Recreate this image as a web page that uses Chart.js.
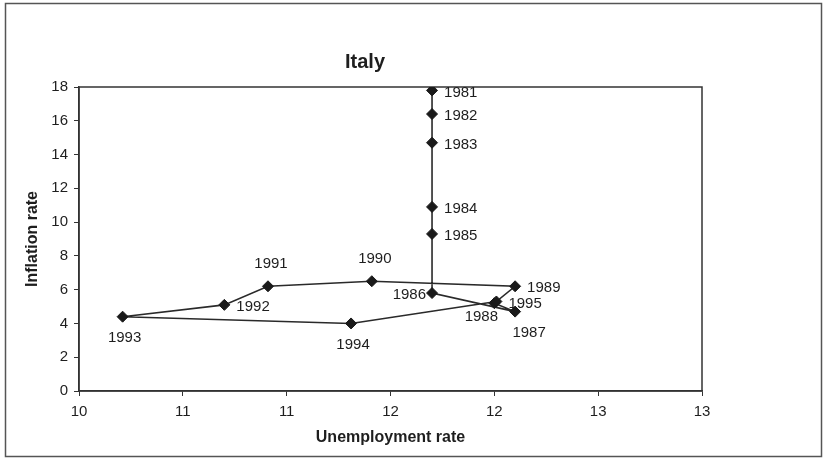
<!DOCTYPE html>
<html><head><meta charset="utf-8">
<script src="https://cdn.jsdelivr.net/npm/chart.js@4/dist/chart.umd.min.js"></script>
<style>html,body{margin:0;padding:0;background:#fff}canvas{display:block}</style>
</head><body>
<canvas id="c" width="824" height="460"></canvas>
<script>
const chartTitle = 'Italy';
const xAxisTitle = 'Unemployment rate';
const yAxisTitle = 'Inflation rate';
const years = ['1981','1982','1983','1984','1985','1986','1987','1988','1989','1990','1991','1992','1993','1994','1995'];
const unemploymentRate = [11.70, 11.70, 11.70, 11.70, 11.70, 11.70, 12.10, 12.00, 12.10, 11.41, 10.91, 10.70, 10.21, 11.31, 12.01];
const inflationRate = [17.8, 16.4, 14.7, 10.9, 9.3, 5.8, 4.7, 5.2, 6.2, 6.5, 6.2, 5.1, 4.4, 4.0, 5.3];
const xTickLabels = ['10','11','11','12','12','13','13'];
const labelSides = ['right','right','right','right','right','left','belowRight','belowLeft','right','above','above','right','below','below','right'];

const FONT = '"Liberation Sans", Arial, sans-serif';
Chart.defaults.font.family = FONT;
Chart.defaults.color = '#1e1e1e';

const offsets = {
  right: {dx: 12, dy: 2, align: 'left'},
  left: {dx: -6, dy: 2, align: 'right'},
  above: {dx: 3, dy: -22, align: 'center'},
  below: {dx: 2, dy: 21, align: 'center'},
  belowLeft: {dx: -13, dy: 14, align: 'center'},
  belowRight: {dx: 14, dy: 21, align: 'center'}
};

const decorPlugin = {
  id: 'decor',
  beforeDraw(chart) {
    const ctx = chart.ctx;
    ctx.save();
    ctx.fillStyle = '#fff';
    ctx.fillRect(0, 0, chart.width, chart.height);
    ctx.strokeStyle = '#555';
    ctx.lineWidth = 1.5;
    ctx.strokeRect(5.5, 3.5, 816, 453);
    ctx.restore();
  },
  beforeDatasetsDraw(chart) {
    const ctx = chart.ctx, a = chart.chartArea;
    ctx.save();
    ctx.strokeStyle = '#333';
    ctx.lineWidth = 1.5;
    ctx.strokeRect(a.left, a.top, a.right - a.left, a.bottom - a.top);
    ctx.restore();
  },
  afterDraw(chart) {
    const ctx = chart.ctx;
    ctx.save();
    ctx.fillStyle = '#1e1e1e';
    ctx.font = 'bold 20px ' + FONT;
    ctx.textAlign = 'center';
    ctx.textBaseline = 'alphabetic';
    ctx.fillText(chartTitle, 365, 68);
    const meta = chart.getDatasetMeta(0);
    ctx.font = '15px ' + FONT;
    ctx.textBaseline = 'middle';
    meta.data.forEach((pt, i) => {
      const o = offsets[labelSides[i]];
      ctx.textAlign = o.align;
      ctx.fillText(years[i], pt.x + o.dx, pt.y + o.dy);
    });
    ctx.restore();
  }
};

new Chart(document.getElementById('c'), {
  type: 'scatter',
  data: {
    datasets: [{
      data: unemploymentRate.map((u, i) => ({x: u, y: inflationRate[i]})),
      showLine: true,
      borderColor: '#2a2a2a',
      borderWidth: 1.6,
      tension: 0,
      pointStyle: 'rectRot',
      pointRadius: 5.5,
      pointHoverRadius: 5.5,
      pointBackgroundColor: '#1a1a1a',
      pointBorderColor: '#1a1a1a',
      pointBorderWidth: 1
    }]
  },
  options: {
    responsive: false,
    animation: false,
    devicePixelRatio: 1,
    layout: {padding: {left: 20, top: 87, right: 122, bottom: 10}},
    plugins: {legend: {display: false}, tooltip: {enabled: false}, title: {display: false}},
    scales: {
      x: {
        type: 'linear', min: 10, max: 13,
        afterFit(s) { s.height = 59; },
        afterBuildTicks(s) { s.ticks = xTickLabels.map((_, i) => ({value: 10 + i * 0.5})); },
        ticks: {
          font: {size: 15}, color: '#1e1e1e', padding: 7, maxRotation: 0, autoSkip: false,
          callback: (v, i) => xTickLabels[i]
        },
        grid: {drawOnChartArea: false, drawTicks: true, tickLength: 5, color: '#333'},
        border: {display: true, color: '#333', width: 1.5},
        title: {display: true, text: xAxisTitle, font: {size: 16, weight: 'bold'}, color: '#1e1e1e', padding: {top: 4, bottom: 3}}
      },
      y: {
        type: 'linear', min: 0, max: 18,
        afterFit(s) { s.width = 59; },
        ticks: {stepSize: 2, font: {size: 15}, color: '#1e1e1e', padding: 6},
        grid: {drawOnChartArea: false, drawTicks: true, tickLength: 5, color: '#333'},
        border: {display: true, color: '#333', width: 1.5},
        title: {display: true, text: yAxisTitle, font: {size: 16, weight: 'bold'}, color: '#1e1e1e', padding: {top: 3, bottom: 4}}
      }
    }
  },
  plugins: [decorPlugin]
});
</script>
</body></html>
